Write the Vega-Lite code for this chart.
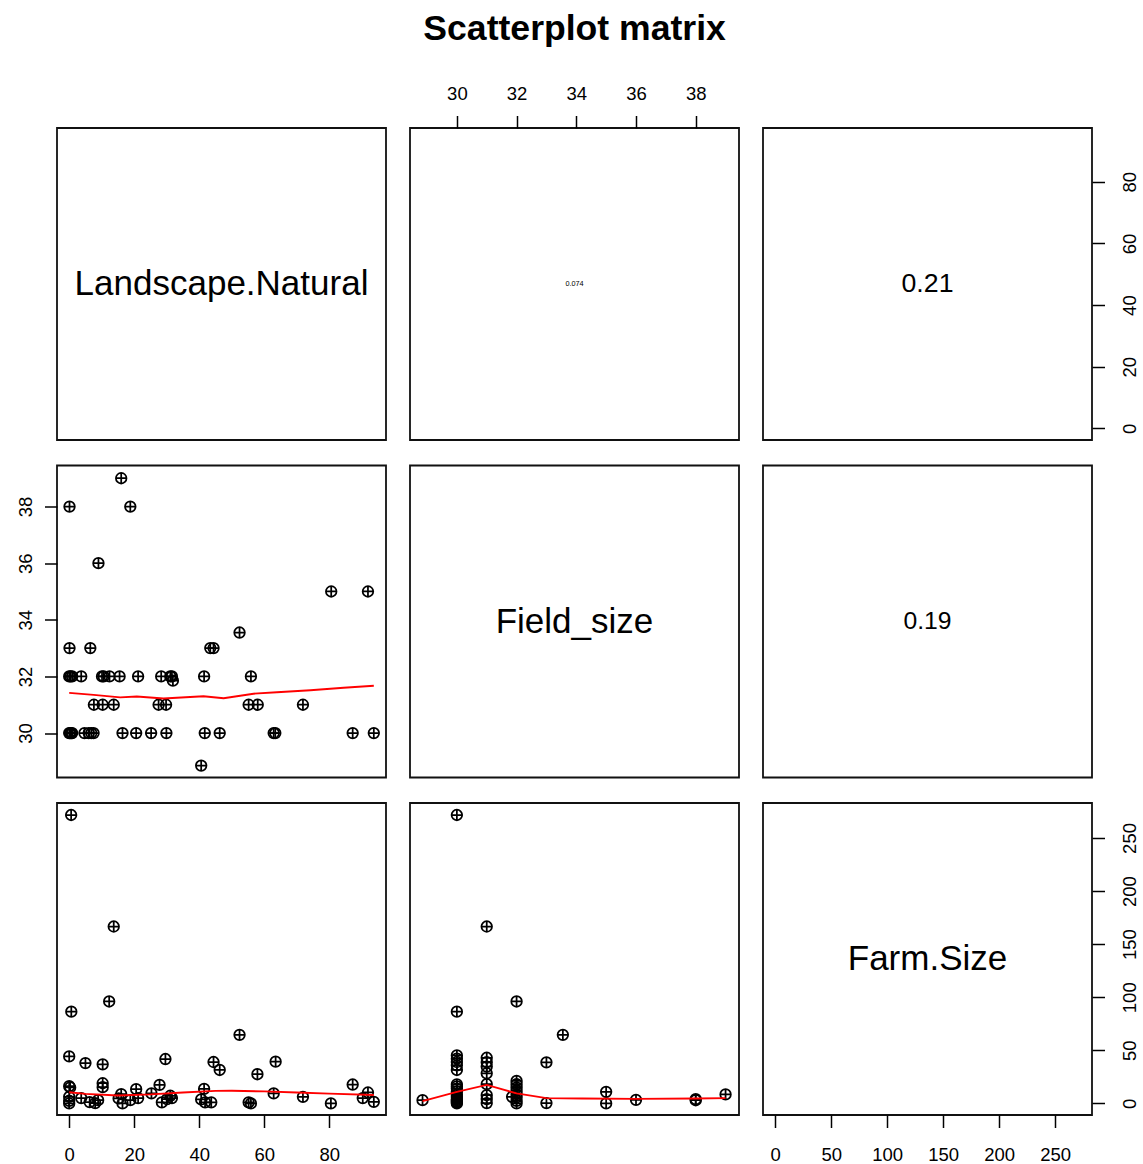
{
  "$schema": "https://vega.github.io/schema/vega-lite/v6.json",
  "background": "white",
  "padding": {"left": 15, "top": 12, "right": 0, "bottom": 0},
  "title": {"text": "Scatterplot matrix", "font": "Liberation Sans", "fontSize": 35.6, "fontWeight": "bold", "anchor": "middle", "offset": 8, "dx": -3, "baseline": "alphabetic", "color": "black"},
  "columns": 3,
  "spacing": {"row": 25.5, "column": 24},
  "bounds": "flush",
  "config": {
    "font": "Liberation Sans",
    "view": {"stroke": "#111", "strokeWidth": 1.8},
    "axis": {"domain": false, "grid": false, "tickColor": "black", "tickWidth": 1.5, "tickSize": 12.5, "labelFont": "Liberation Sans", "labelFontSize": 18.5, "labelColor": "black", "labelFlush": false, "labelOverlap": false, "title": null}
  },
  "datasets": {
    "p21": [
      {"L": 16.0, "F": 39}, {"L": 0.1, "F": 38}, {"L": 18.8, "F": 38}, {"L": 9.0, "F": 36},
      {"L": 80.6, "F": 35}, {"L": 91.9, "F": 35}, {"L": 52.4, "F": 33.55},
      {"L": 0.1, "F": 33}, {"L": 6.5, "F": 33}, {"L": 43.4, "F": 33}, {"L": 44.4, "F": 33},
      {"L": 0, "F": 32}, {"L": 0.4, "F": 32}, {"L": 0.9, "F": 32}, {"L": 3.7, "F": 32}, {"L": 10.1, "F": 32}, {"L": 10.6, "F": 32}, {"L": 12.4, "F": 32}, {"L": 15.5, "F": 32}, {"L": 21.2, "F": 32}, {"L": 28.3, "F": 32}, {"L": 31.1, "F": 32}, {"L": 31.6, "F": 32}, {"L": 41.5, "F": 32}, {"L": 55.9, "F": 32},
      {"L": 31.9, "F": 31.85},
      {"L": 7.6, "F": 31}, {"L": 10.3, "F": 31}, {"L": 13.7, "F": 31}, {"L": 27.5, "F": 31}, {"L": 29.8, "F": 31}, {"L": 55.2, "F": 31}, {"L": 58.0, "F": 31}, {"L": 71.9, "F": 31},
      {"L": 0, "F": 30}, {"L": 0.3, "F": 30}, {"L": 0.6, "F": 30}, {"L": 0.9, "F": 30}, {"L": 4.7, "F": 30}, {"L": 6.0, "F": 30}, {"L": 6.8, "F": 30}, {"L": 7.5, "F": 30}, {"L": 16.4, "F": 30}, {"L": 20.6, "F": 30}, {"L": 25.2, "F": 30}, {"L": 29.9, "F": 30}, {"L": 41.7, "F": 30}, {"L": 46.3, "F": 30}, {"L": 62.9, "F": 30}, {"L": 63.4, "F": 30}, {"L": 87.2, "F": 30}, {"L": 93.7, "F": 30},
      {"L": 40.6, "F": 28.85}
    ],
    "l21": [
      {"L": 0, "F": 31.42}, {"L": 7.5, "F": 31.35}, {"L": 15.7, "F": 31.26}, {"L": 20.8, "F": 31.29}, {"L": 29, "F": 31.22}, {"L": 41.3, "F": 31.3}, {"L": 47.5, "F": 31.23}, {"L": 56.7, "F": 31.39}, {"L": 63.9, "F": 31.44}, {"L": 74.2, "F": 31.51}, {"L": 84.4, "F": 31.6}, {"L": 93.7, "F": 31.67}
    ],
    "p31": [
      {"L": 0.6, "S": 271.6}, {"L": 13.7, "S": 166.6}, {"L": 12.3, "S": 96}, {"L": 0.65, "S": 86.4}, {"L": 0, "S": 44.3}, {"L": 5.0, "S": 38}, {"L": 10.3, "S": 36.8}, {"L": 29.6, "S": 41.8}, {"L": 44.4, "S": 39}, {"L": 46.3, "S": 31.5},
      {"L": 0, "S": 16.2}, {"L": 0.3, "S": 15}, {"L": 0, "S": 6.2}, {"L": 0, "S": 2.5}, {"L": 0, "S": 0},
      {"L": 3.7, "S": 5}, {"L": 6.3, "S": 1.3}, {"L": 8.0, "S": 0.3}, {"L": 8.9, "S": 3.1}, {"L": 10.3, "S": 19}, {"L": 10.3, "S": 15.3},
      {"L": 15.2, "S": 4.7}, {"L": 16.0, "S": 8.7}, {"L": 16.4, "S": 0}, {"L": 18.8, "S": 3.1}, {"L": 20.6, "S": 13.4}, {"L": 21.2, "S": 5}, {"L": 25.3, "S": 9.4}, {"L": 27.8, "S": 17.4},
      {"L": 28.5, "S": 1}, {"L": 30.1, "S": 4.1}, {"L": 31.1, "S": 7.2}, {"L": 31.6, "S": 5},
      {"L": 40.6, "S": 3.8}, {"L": 41.5, "S": 13.7}, {"L": 41.8, "S": 1}, {"L": 43.7, "S": 1},
      {"L": 52.4, "S": 64.6}, {"L": 55.2, "S": 1}, {"L": 55.9, "S": 0}, {"L": 57.9, "S": 27.5}, {"L": 62.9, "S": 9.4}, {"L": 63.5, "S": 39.3}, {"L": 71.9, "S": 6.2}, {"L": 80.5, "S": 0}, {"L": 87.2, "S": 17.8}, {"L": 90.3, "S": 5}, {"L": 91.9, "S": 10.3}, {"L": 93.7, "S": 1.5}
    ],
    "l31": [
      {"L": 0, "S": 10.5}, {"L": 5, "S": 9}, {"L": 15, "S": 7.5}, {"L": 25, "S": 8.5}, {"L": 35, "S": 10.3}, {"L": 45, "S": 11.8}, {"L": 50, "S": 12}, {"L": 60, "S": 11.3}, {"L": 70, "S": 10.3}, {"L": 80, "S": 9.2}, {"L": 93.7, "S": 8}
    ],
    "p32": [
      {"F": 28.85, "S": 3.1},
      {"F": 30, "S": 271.6}, {"F": 30, "S": 86.4}, {"F": 30, "S": 45.2}, {"F": 30, "S": 42.1}, {"F": 30, "S": 39}, {"F": 30, "S": 35.9}, {"F": 30, "S": 31.5}, {"F": 30, "S": 18}, {"F": 30, "S": 16}, {"F": 30, "S": 14}, {"F": 30, "S": 11}, {"F": 30, "S": 8}, {"F": 30, "S": 6}, {"F": 30, "S": 4}, {"F": 30, "S": 3}, {"F": 30, "S": 2}, {"F": 30, "S": 1}, {"F": 30, "S": 0},
      {"F": 31, "S": 166.6}, {"F": 31, "S": 43}, {"F": 31, "S": 38.8}, {"F": 31, "S": 34.7}, {"F": 31, "S": 28.4}, {"F": 31, "S": 18.1}, {"F": 31, "S": 7.8}, {"F": 31, "S": 4.1}, {"F": 31, "S": 0.3},
      {"F": 31.85, "S": 6.2},
      {"F": 32, "S": 96}, {"F": 32, "S": 21.2}, {"F": 32, "S": 18.1}, {"F": 32, "S": 15}, {"F": 32, "S": 11.8}, {"F": 32, "S": 8.7}, {"F": 32, "S": 5.7}, {"F": 32, "S": 2.5}, {"F": 32, "S": 0},
      {"F": 33, "S": 38.7}, {"F": 33, "S": 0.3}, {"F": 33.55, "S": 64.6},
      {"F": 35, "S": 10.9}, {"F": 35, "S": 0}, {"F": 36, "S": 3.4}, {"F": 38, "S": 3}, {"F": 38, "S": 4}, {"F": 39, "S": 8.5}
    ],
    "l32": [
      {"F": 28.85, "S": 2.2}, {"F": 30, "S": 10.9}, {"F": 31, "S": 17.4}, {"F": 32, "S": 9.4}, {"F": 33, "S": 5.0}, {"F": 34.2, "S": 4.7}, {"F": 36, "S": 4.3}, {"F": 38, "S": 4.7}, {"F": 39, "S": 5.0}
    ]
  },
  "concat": [
    {
      "width": 329, "height": 312,
      "data": {"values": [{"label": "Landscape.Natural"}]},
      "mark": {"type": "text", "fontSize": 35, "font": "Liberation Sans", "color": "black"},
      "encoding": {
        "text": {"field": "label"},
        "x": {"datum": 0.5, "type": "quantitative", "scale": {"domain": [0, 1], "nice": false, "zero": false}, "axis": null},
        "y": {"datum": 0.5, "type": "quantitative", "scale": {"domain": [0, 1], "nice": false, "zero": false}, "axis": null}
      }
    },
    {
      "width": 329, "height": 312,
      "data": {"values": [{"r": "0.074"}]},
      "mark": {"type": "text", "fontSize": 7.3, "font": "Liberation Sans", "color": "black"},
      "encoding": {
        "text": {"field": "r"},
        "x": {"datum": 33.94, "type": "quantitative", "scale": {"domain": [28.43, 39.45], "nice": false, "zero": false}, "axis": {"orient": "top", "values": [30, 32, 34, 36, 38], "labelBaseline": "alphabetic", "labelPadding": 16}},
        "y": {"datum": 46.85, "type": "quantitative", "scale": {"domain": [-3.75, 97.45], "nice": false, "zero": false}, "axis": null}
      }
    },
    {
      "width": 329, "height": 312,
      "data": {"values": [{"r": "0.21"}]},
      "mark": {"type": "text", "fontSize": 26.7, "font": "Liberation Sans", "color": "black"},
      "encoding": {
        "text": {"field": "r"},
        "x": {"datum": 136, "type": "quantitative", "scale": {"domain": [-10.9, 282.9], "nice": false, "zero": false}, "axis": null},
        "y": {"datum": 46.85, "type": "quantitative", "scale": {"domain": [-3.75, 97.45], "nice": false, "zero": false}, "axis": {"orient": "right", "values": [0, 20, 40, 60, 80], "labelAngle": -90, "labelAlign": "center", "labelBaseline": "alphabetic", "labelPadding": 30.5}}
      }
    },
    {
      "width": 329, "height": 312,
      "layer": [
        {
          "data": {"name": "p21"},
          "mark": {"type": "point", "shape": "M-1,0A1,1,0,1,0,1,0A1,1,0,1,0,-1,0ZM-1,0L1,0M0,-1L0,1", "filled": false, "stroke": "black", "strokeWidth": 1.75, "size": 112, "opacity": 1},
          "encoding": {
            "x": {"field": "L", "type": "quantitative", "scale": {"domain": [-3.75, 97.45], "nice": false, "zero": false}, "axis": null},
            "y": {"field": "F", "type": "quantitative", "scale": {"domain": [28.43, 39.45], "nice": false, "zero": false}, "axis": {"orient": "left", "values": [30, 32, 34, 36, 38], "labelAngle": -90, "labelAlign": "center", "labelBaseline": "alphabetic", "labelPadding": 12.8}}
          }
        },
        {
          "data": {"name": "l21"},
          "mark": {"type": "line", "color": "#ff0000", "strokeWidth": 1.9},
          "encoding": {
            "x": {"field": "L", "type": "quantitative"},
            "y": {"field": "F", "type": "quantitative"}
          }
        }
      ]
    },
    {
      "width": 329, "height": 312,
      "data": {"values": [{"label": "Field_size"}]},
      "mark": {"type": "text", "fontSize": 35, "font": "Liberation Sans", "color": "black"},
      "encoding": {
        "text": {"field": "label"},
        "x": {"datum": 0.5, "type": "quantitative", "scale": {"domain": [0, 1], "nice": false, "zero": false}, "axis": null},
        "y": {"datum": 0.5, "type": "quantitative", "scale": {"domain": [0, 1], "nice": false, "zero": false}, "axis": null}
      }
    },
    {
      "width": 329, "height": 312,
      "data": {"values": [{"r": "0.19"}]},
      "mark": {"type": "text", "fontSize": 24.7, "font": "Liberation Sans", "color": "black"},
      "encoding": {
        "text": {"field": "r"},
        "x": {"datum": 0.5, "type": "quantitative", "scale": {"domain": [0, 1], "nice": false, "zero": false}, "axis": null},
        "y": {"datum": 0.5, "type": "quantitative", "scale": {"domain": [0, 1], "nice": false, "zero": false}, "axis": null}
      }
    },
    {
      "width": 329, "height": 312,
      "layer": [
        {
          "data": {"name": "p31"},
          "mark": {"type": "point", "shape": "M-1,0A1,1,0,1,0,1,0A1,1,0,1,0,-1,0ZM-1,0L1,0M0,-1L0,1", "filled": false, "stroke": "black", "strokeWidth": 1.75, "size": 112, "opacity": 1},
          "encoding": {
            "x": {"field": "L", "type": "quantitative", "scale": {"domain": [-3.75, 97.45], "nice": false, "zero": false}, "axis": {"orient": "bottom", "values": [0, 20, 40, 60, 80], "labelBaseline": "alphabetic", "labelPadding": 32.5}},
            "y": {"field": "S", "type": "quantitative", "scale": {"domain": [-10.9, 282.9], "nice": false, "zero": false}, "axis": null}
          }
        },
        {
          "data": {"name": "l31"},
          "mark": {"type": "line", "color": "#ff0000", "strokeWidth": 1.9},
          "encoding": {
            "x": {"field": "L", "type": "quantitative"},
            "y": {"field": "S", "type": "quantitative"}
          }
        }
      ]
    },
    {
      "width": 329, "height": 312,
      "layer": [
        {
          "data": {"name": "p32"},
          "mark": {"type": "point", "shape": "M-1,0A1,1,0,1,0,1,0A1,1,0,1,0,-1,0ZM-1,0L1,0M0,-1L0,1", "filled": false, "stroke": "black", "strokeWidth": 1.75, "size": 112, "opacity": 1},
          "encoding": {
            "x": {"field": "F", "type": "quantitative", "scale": {"domain": [28.43, 39.45], "nice": false, "zero": false}, "axis": null},
            "y": {"field": "S", "type": "quantitative", "scale": {"domain": [-10.9, 282.9], "nice": false, "zero": false}, "axis": null}
          }
        },
        {
          "data": {"name": "l32"},
          "mark": {"type": "line", "color": "#ff0000", "strokeWidth": 1.9},
          "encoding": {
            "x": {"field": "F", "type": "quantitative"},
            "y": {"field": "S", "type": "quantitative"}
          }
        }
      ]
    },
    {
      "width": 329, "height": 312,
      "data": {"values": [{"label": "Farm.Size"}]},
      "mark": {"type": "text", "fontSize": 35, "font": "Liberation Sans", "color": "black"},
      "encoding": {
        "text": {"field": "label"},
        "x": {"datum": 136, "type": "quantitative", "scale": {"domain": [-10.9, 282.9], "nice": false, "zero": false}, "axis": {"orient": "bottom", "values": [0, 50, 100, 150, 200, 250], "labelBaseline": "alphabetic", "labelPadding": 32.5}},
        "y": {"datum": 136, "type": "quantitative", "scale": {"domain": [-10.9, 282.9], "nice": false, "zero": false}, "axis": {"orient": "right", "values": [0, 50, 100, 150, 200, 250], "labelAngle": -90, "labelAlign": "center", "labelBaseline": "alphabetic", "labelPadding": 30.5}}
      }
    }
  ]
}
